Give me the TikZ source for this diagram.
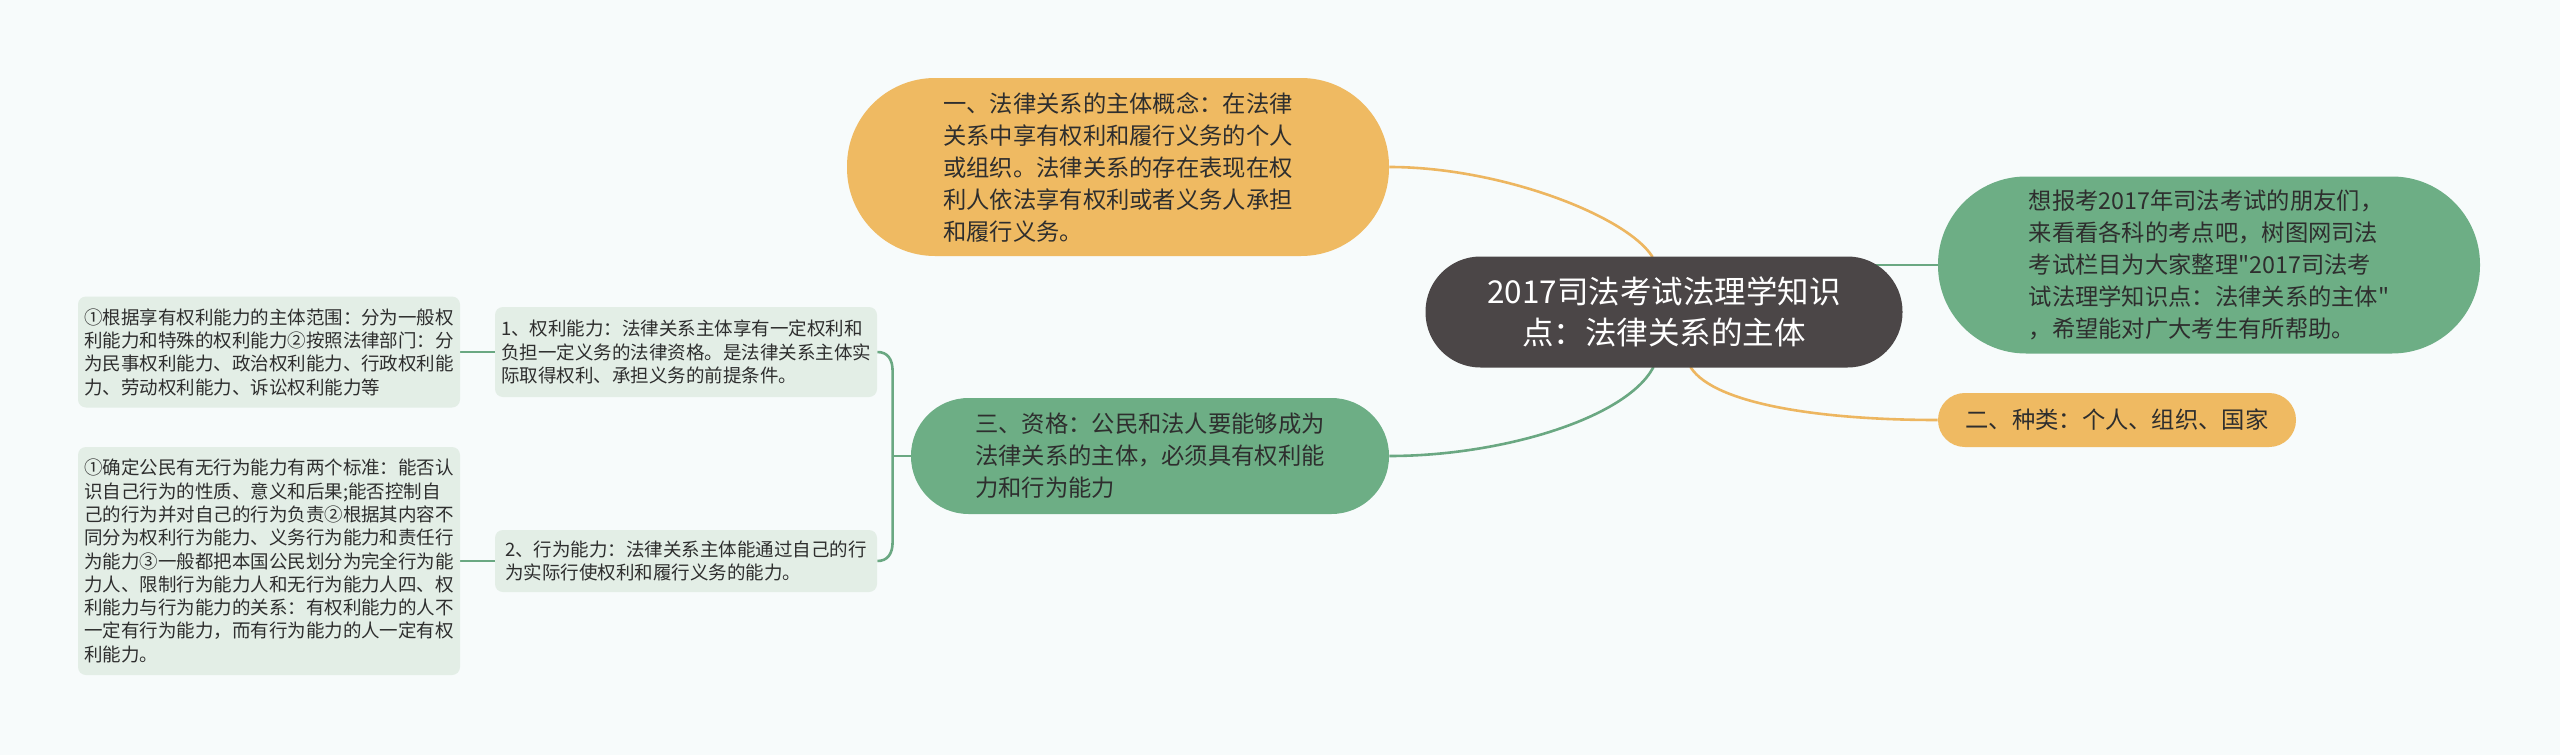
\documentclass[tikz,border=0pt]{standalone}
\usepackage{fontspec}
\newfontfamily\cjk{Noto Sans CJK SC}
\usetikzlibrary{calc}
\definecolor{bgc}{HTML}{F7FBFB}
\definecolor{orf}{HTML}{EFBA62}
\definecolor{grf}{HTML}{6DAE85}
\definecolor{cef}{HTML}{4B4647}
\definecolor{lff}{HTML}{E3EEE6}
\definecolor{orl}{HTML}{EDB660}
\definecolor{grl}{HTML}{6AA882}
\definecolor{txt}{HTML}{2E2E2E}
\pgfdeclarelayer{bglayer}
\pgfdeclarelayer{edges}
\pgfsetlayers{bglayer,edges,main}
\begin{document}
\begin{tikzpicture}[x=0.5pt,y=-0.5pt,
  lvone/.style={rectangle, inner sep=0pt, align=left, text=txt,
    font=\cjk\fontsize{11.65}{16}\selectfont},
  leafbox/.style={rectangle, fill=lff, rounded corners=4pt, inner sep=0pt,
    minimum width=191pt, align=left, text=txt,
    font=\cjk\fontsize{9.25}{11.65}\selectfont},
  oedge/.style={draw=orl, line width=1.3pt},
  gedge/.style={draw=grl, line width=1.3pt}
]
\useasboundingbox (0,0) rectangle (2560,755);
\begin{pgfonlayer}{bglayer}
\fill[bgc] (0,0) rectangle (2560,755);
\end{pgfonlayer}

% central
\node[rectangle, fill=cef, inner sep=0pt, minimum width=238.5pt, minimum height=55.5pt,
  rounded corners=27.5pt, align=center, text=white,
  font=\cjk\fontsize{15.75}{20.8}\selectfont] (c) at (1664,312)
  {2017司法考试法理学知识\\点：法律关系的主体};

% level one
\node[lvone, fill=orf, minimum width=271pt, minimum height=89pt, rounded corners=44pt] (o1) at (1118,167)
  {一、法律关系的主体概念：在法律\\关系中享有权利和履行义务的个人\\或组织。法律关系的存在表现在权\\利人依法享有权利或者义务人承担\\和履行义务。};
\node[lvone, fill=grf, minimum width=271pt, minimum height=88.5pt, rounded corners=44pt] (g1) at (2209,265)
  {想报考2017年司法考试的朋友们，\\来看看各科的考点吧，树图网司法\\考试栏目为大家整理"2017司法考\\试法理学知识点：法律关系的主体"\\，希望能对广大考生有所帮助。};
\node[lvone, fill=orf, minimum width=179pt, minimum height=27pt, rounded corners=13.4pt] (o2) at (2117,420)
  {二、种类：个人、组织、国家};
\node[lvone, fill=grf, minimum width=239pt, minimum height=58pt, rounded corners=28.8pt] (g2) at (1150,456)
  {三、资格：公民和法人要能够成为\\法律关系的主体，必须具有权利能\\力和行为能力};

% leaves
\node[leafbox, minimum height=45pt] (a1) at (686,352)
  {1、权利能力：法律关系主体享有一定权利和\\负担一定义务的法律资格。是法律关系主体实\\际取得权利、承担义务的前提条件。};
\node[leafbox, minimum height=55.5pt] (a2) at (269,352)
  {①根据享有权利能力的主体范围：分为一般权\\利能力和特殊的权利能力②按照法律部门：分\\为民事权利能力、政治权利能力、行政权利能\\力、劳动权利能力、诉讼权利能力等};
\node[leafbox, minimum height=31pt] (b1) at (686,561)
  {2、行为能力：法律关系主体能通过自己的行\\为实际行使权利和履行义务的能力。};
\node[leafbox, minimum height=114pt] (b2) at (269,561)
  {①确定公民有无行为能力有两个标准：能否认\\识自己行为的性质、意义和后果;能否控制自\\己的行为并对自己的行为负责②根据其内容不\\同分为权利行为能力、义务行为能力和责任行\\为能力③一般都把本国公民划分为完全行为能\\力人、限制行为能力人和无行为能力人四、权\\利能力与行为能力的关系：有权利能力的人不\\一定有行为能力，而有行为能力的人一定有权\\利能力。};

\coordinate (j) at ($(g2.west)+(-18,0)$);

\begin{pgfonlayer}{edges}
\draw[oedge] ($(c.north)+(-12,4)$) -- ($(c.north)+(-12,0)$) .. controls +(-27,-41) and +(110,0) .. (o1.east);
\draw[gedge] (g1.west) -- (g1.west -| c.center);
\draw[oedge] ($(c.south)+(27,-4)$) -- ($(c.south)+(27,0)$) .. controls +(24,36) and +(-118,0) .. (o2.west);
\draw[gedge] ($(c.south)+(-11,-4)$) -- ($(c.south)+(-11,0)$) .. controls +(-28,51) and +(111,0) .. (g2.east);
\draw[gedge] (g2.west) -- (j);
\draw[gedge] (j) -- +(0,-85) .. controls +(0,-12) and +(10,0) .. (a1.east);
\draw[gedge] (j) -- +(0,86) .. controls +(0,12) and +(10,0) .. (b1.east);
\draw[gedge] (a1.west) -- (a2.east);
\draw[gedge] (b1.west) -- (b2.east);
\end{pgfonlayer}
\end{tikzpicture}
\end{document}
